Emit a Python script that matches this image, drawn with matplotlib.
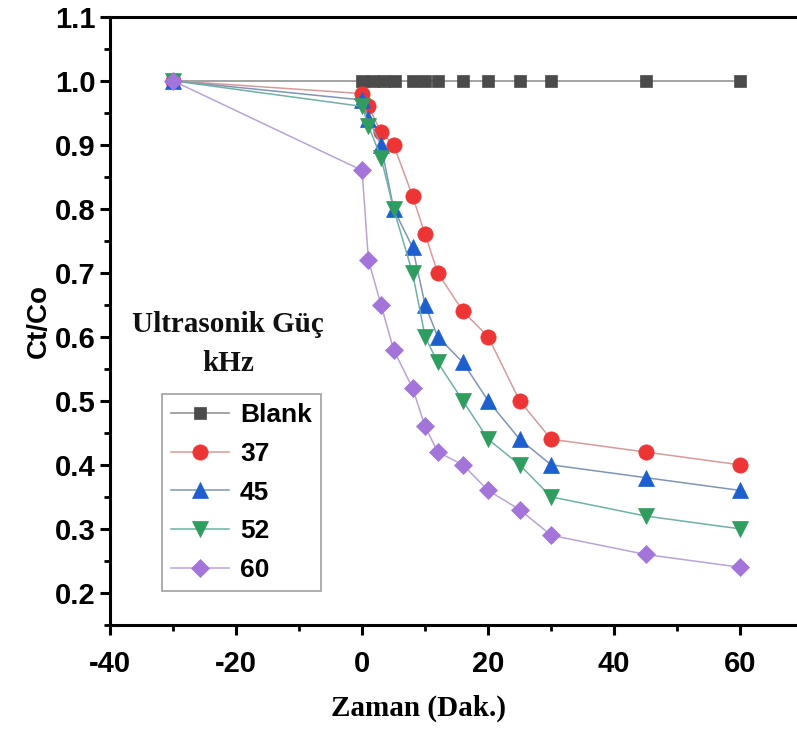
import numpy as np
import matplotlib
matplotlib.use("Agg")
import matplotlib.pyplot as plt
from matplotlib.ticker import MultipleLocator

plt.rcParams["axes.unicode_minus"] = False

# veri
zaman = [-30, 0, 1, 3, 5, 8, 10, 12, 16, 20, 25, 30, 45, 60]
zaman_blank = [-30, 0, 1.7, 3.5, 5.2, 8, 10, 12, 16, 20, 25, 30, 45, 60]
blank = [1.0] * len(zaman_blank)
g37 = [1.0, 0.98, 0.96, 0.92, 0.90, 0.82, 0.76, 0.70, 0.64, 0.60, 0.50, 0.44, 0.42, 0.40]
g45 = [1.0, 0.97, 0.94, 0.90, 0.80, 0.74, 0.65, 0.60, 0.56, 0.50, 0.44, 0.40, 0.38, 0.36]
g52 = [1.0, 0.96, 0.93, 0.88, 0.80, 0.70, 0.60, 0.56, 0.50, 0.44, 0.40, 0.35, 0.32, 0.30]
g60 = [1.0, 0.86, 0.72, 0.65, 0.58, 0.52, 0.46, 0.42, 0.40, 0.36, 0.33, 0.29, 0.26, 0.24]

seriler = [
    ("Blank", zaman_blank, blank, "s", "#4b4b4b", "#8a8a8a", 8.5),
    ("37", zaman, g37, "o", "#ee3535", "#d89a9a", 11),
    ("45", zaman, g45, "^", "#1e5fd0", "#7f95b5", 11),
    ("52", zaman, g52, "v", "#2f9d5f", "#6fb0a8", 11),
    ("60", zaman, g60, "D", "#a374da", "#b9a3d6", 9),
]

fig = plt.figure(figsize=(7.97, 7.30), dpi=100)
ax = fig.add_axes([0.138, 0.144, 0.862, 0.833])

for ad, x, y, mk, renk, cizgi, ms in seriler:
    ax.plot(x, y, color=cizgi, lw=1.1, marker=mk, ms=ms,
            markerfacecolor=renk, markeredgecolor=renk, markeredgewidth=0.5,
            label=ad)

ax.set_xlim(-40, 69.0)
ax.set_ylim(0.15, 1.1)
ax.xaxis.set_major_locator(MultipleLocator(20))
ax.xaxis.set_minor_locator(MultipleLocator(10))
ax.yaxis.set_minor_locator(MultipleLocator(0.05))
ax.set_yticks(np.arange(0.2, 1.11, 0.1))
ax.set_yticklabels([f"{v:.1f}" for v in np.arange(0.2, 1.11, 0.1)])

ax.spines["right"].set_visible(False)
for s in ["left", "bottom", "top"]:
    ax.spines[s].set_linewidth(2.2)
ax.tick_params(which="major", direction="out", length=7, width=2.2)
ax.tick_params(which="minor", direction="out", length=4, width=2)
ax.tick_params(axis="x", which="major", pad=11)
for lab in ax.get_xticklabels() + ax.get_yticklabels():
    lab.set_fontfamily("Liberation Sans")
    lab.set_fontweight("bold")
    lab.set_fontsize(21)

ax.set_ylabel("Ct/Co", fontfamily="Liberation Sans", fontweight="bold",
              fontsize=20, labelpad=2)
fig.text(419 / 797, 1 - 708 / 730, "Zaman (Dak.)", fontfamily="Liberation Serif",
         fontweight="bold", fontsize=21, ha="center", va="center")

ax.text(-21.3, 0.619, "Ultrasonik Güç", fontfamily="Liberation Serif",
        fontweight="bold", fontsize=21, ha="center", va="center", color="#111111")
ax.text(-21.3, 0.559, "kHz", fontfamily="Liberation Serif",
        fontweight="bold", fontsize=21, ha="center", va="center", color="#111111")

leg = ax.legend(loc="upper left", bbox_to_anchor=(0.076, 0.38), borderaxespad=0,
                prop={"family": "Liberation Sans", "weight": "bold", "size": 19},
                handlelength=2.2, labelspacing=0.56, handletextpad=0.4,
                borderpad=0.35, fancybox=False, edgecolor="#888888")
leg.get_frame().set_linewidth(1.2)

fig.savefig("out.png", dpi=100)
